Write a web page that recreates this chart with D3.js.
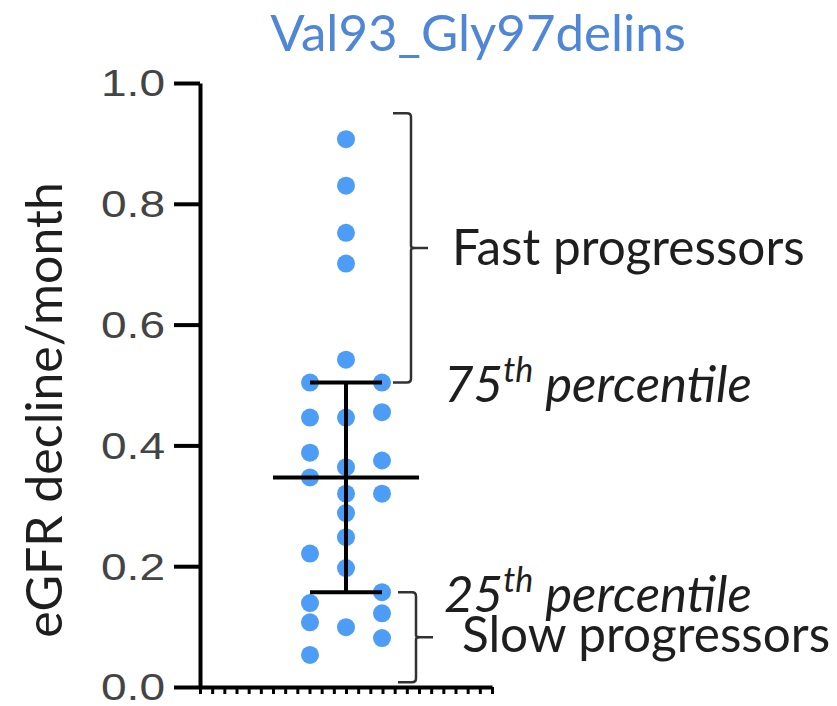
<!DOCTYPE html>
<html>
<head>
<meta charset="utf-8">
<script src="https://cdn.jsdelivr.net/npm/d3@7/dist/d3.min.js"></script>
<style>
  html, body { margin: 0; padding: 0; background: #fff; }
  svg { display: block; }
</style>
</head>
<body>
<svg id="chart" width="837" height="706"></svg>
<script>
// eGFR decline per month for the Val93_Gly97delins carriers
const title = "Val93_Gly97delins";
const yLabel = "eGFR decline/month";
const values = [0.907, 0.830, 0.752, 0.701, 0.542, 0.504, 0.504, 0.455, 0.446, 0.446,
                0.388, 0.375, 0.364, 0.347, 0.320, 0.320, 0.288, 0.248, 0.221, 0.197,
                0.157, 0.139, 0.122, 0.107, 0.099, 0.081, 0.053];
// scatter lane of each point (left / centre / right)
const lanes = [0, 0, 0, 0, 0, -1, 1, 1, -1, 0,
               -1, 1, 0, -1, 0, 1, 0, 0, -1, 0,
               1, -1, 1, -1, 0, 1, -1];
const yTicks = [0.0, 0.2, 0.4, 0.6, 0.8, 1.0];
const fastTop = 0.95;      // upper end of the fast-progressor bracket
const slowBottom = 0.008;  // lower end of the slow-progressor bracket

// percentiles, (n+1)p rank method
function pct(arr, p) {
  const s = arr.slice().sort(d3.ascending);
  const r = (s.length + 1) * p - 1;
  const lo = Math.floor(r), hi = Math.ceil(r);
  return s[lo] + (s[hi] - s[lo]) * (r - lo);
}
const q1 = pct(values, 0.25), med = pct(values, 0.5), q3 = pct(values, 0.75);

const svg = d3.select("#chart");
const axisX = 200, baseY = 687, topY = 83, axisRight = 492;
const y = d3.scaleLinear().domain([0, 1]).range([baseY, topY]);
const x = d3.scaleLinear().domain([-1, 1]).range([310, 382]);
const cx = x(0);

const soft = svg.append("defs").append("filter").attr("id", "soft")
  .attr("x", "-20%").attr("y", "-20%").attr("width", "140%").attr("height", "140%");
soft.append("feGaussianBlur").attr("stdDeviation", 0.6);

const sans = "Lato, 'Open Sans', sans-serif";

// title
svg.append("text")
  .attr("x", 478).attr("y", 51)
  .attr("text-anchor", "middle")
  .attr("font-family", sans)
  .attr("font-size", 51)
  .attr("fill", "#4f86d6")
  .text(title);

// y axis
const yAxis = d3.axisLeft(y).tickValues(yTicks).tickSize(26).tickSizeOuter(0)
  .tickFormat(d3.format(".1f"));
const gy = svg.append("g").attr("transform", `translate(${axisX},0)`).call(yAxis);
gy.select(".domain").attr("stroke", "#000").attr("stroke-width", 4);
gy.selectAll(".tick line").attr("stroke", "#000").attr("stroke-width", 4);
const sx = 1.28;
gy.selectAll(".tick text")
  .attr("font-family", "'Liberation Sans', Arial, sans-serif")
  .attr("font-size", 36)
  .attr("fill", "#444")
  .attr("x", -35 / sx)
  .attr("dy", "0.36em")
  .attr("transform", `scale(${sx},1)`);

// x axis: baseline with a comb of minor ticks
const xt = d3.scaleLinear().domain([0, 24]).range([axisX, axisRight]);
const xAxis = d3.axisBottom(xt).ticks(24).tickSize(7).tickSizeOuter(0).tickFormat("");
const gx = svg.append("g").attr("transform", `translate(0,${baseY})`).call(xAxis);
gx.select(".domain").attr("stroke", "#000").attr("stroke-width", 4);
gx.selectAll(".tick line").attr("stroke", "#000").attr("stroke-width", 3);

// y axis title
svg.append("text")
  .attr("transform", `translate(62,410) rotate(-90)`)
  .attr("text-anchor", "middle")
  .attr("font-family", sans)
  .attr("font-size", 50)
  .attr("fill", "#1e1e1e")
  .text(yLabel);

// data points
svg.append("g").attr("filter", "url(#soft)")
  .selectAll("circle").data(values).join("circle")
  .attr("cx", (d, i) => x(lanes[i]))
  .attr("cy", d => y(d))
  .attr("r", 9)
  .attr("fill", "#4d9cf5");

// median with interquartile range
const bars = svg.append("g").attr("stroke", "#000").attr("stroke-width", 4);
bars.append("line").attr("x1", cx).attr("x2", cx).attr("y1", y(q3)).attr("y2", y(q1));
bars.append("line").attr("x1", cx - 73).attr("x2", cx + 73).attr("y1", y(med)).attr("y2", y(med));
bars.append("line").attr("x1", cx - 36).attr("x2", cx + 36).attr("y1", y(q3)).attr("y2", y(q3));
bars.append("line").attr("x1", cx - 36).attr("x2", cx + 36).attr("y1", y(q1)).attr("y2", y(q1));

// brackets
function bracket(bx, lo, hi) {
  const yt = y(hi), yb = y(lo), ym = (yt + yb) / 2, w = 18, r = 4;
  return `M${bx - w},${yt} L${bx - r},${yt} Q${bx},${yt} ${bx},${yt + r} ` +
         `L${bx},${ym - 2} Q${bx},${ym} ${bx + 4},${ym} L${bx + 17},${ym} ` +
         `M${bx + 4},${ym} Q${bx},${ym} ${bx},${ym + 2} ` +
         `L${bx},${yb - r} Q${bx},${yb} ${bx - r},${yb} L${bx - w},${yb}`;
}
const br = svg.append("g").attr("fill", "none").attr("stroke", "#333")
  .attr("stroke-width", 2.5).attr("filter", "url(#soft)");
br.append("path").attr("d", bracket(411, q3, fastTop));
br.append("path").attr("d", bracket(416, slowBottom, q1));

// annotations
const ann = svg.append("g").attr("font-family", sans)
  .attr("font-size", 49.5).attr("fill", "#1e1e1e");
ann.append("text").attr("x", 452).attr("y", (y(fastTop) + y(q3)) / 2).attr("dy", "0.35em")
  .text("Fast progressors");
ann.append("text").attr("x", 462).attr("y", (y(slowBottom) + y(q1)) / 2 - 2).attr("dy", "0.35em")
  .text("Slow progressors");
function pctLabel(num, v) {
  const t = ann.append("text").attr("x", 444).attr("y", y(v) + 2).attr("dy", "0.35em")
    .attr("font-size", 51).attr("font-style", "italic");
  t.append("tspan").text(num);
  t.append("tspan").attr("font-size", 34).attr("dy", "-0.6em").text("th");
  t.append("tspan").attr("dy", "0.4em").text(" percentile");
}
pctLabel("75", q3);
pctLabel("25", q1);
</script>
</body>
</html>
